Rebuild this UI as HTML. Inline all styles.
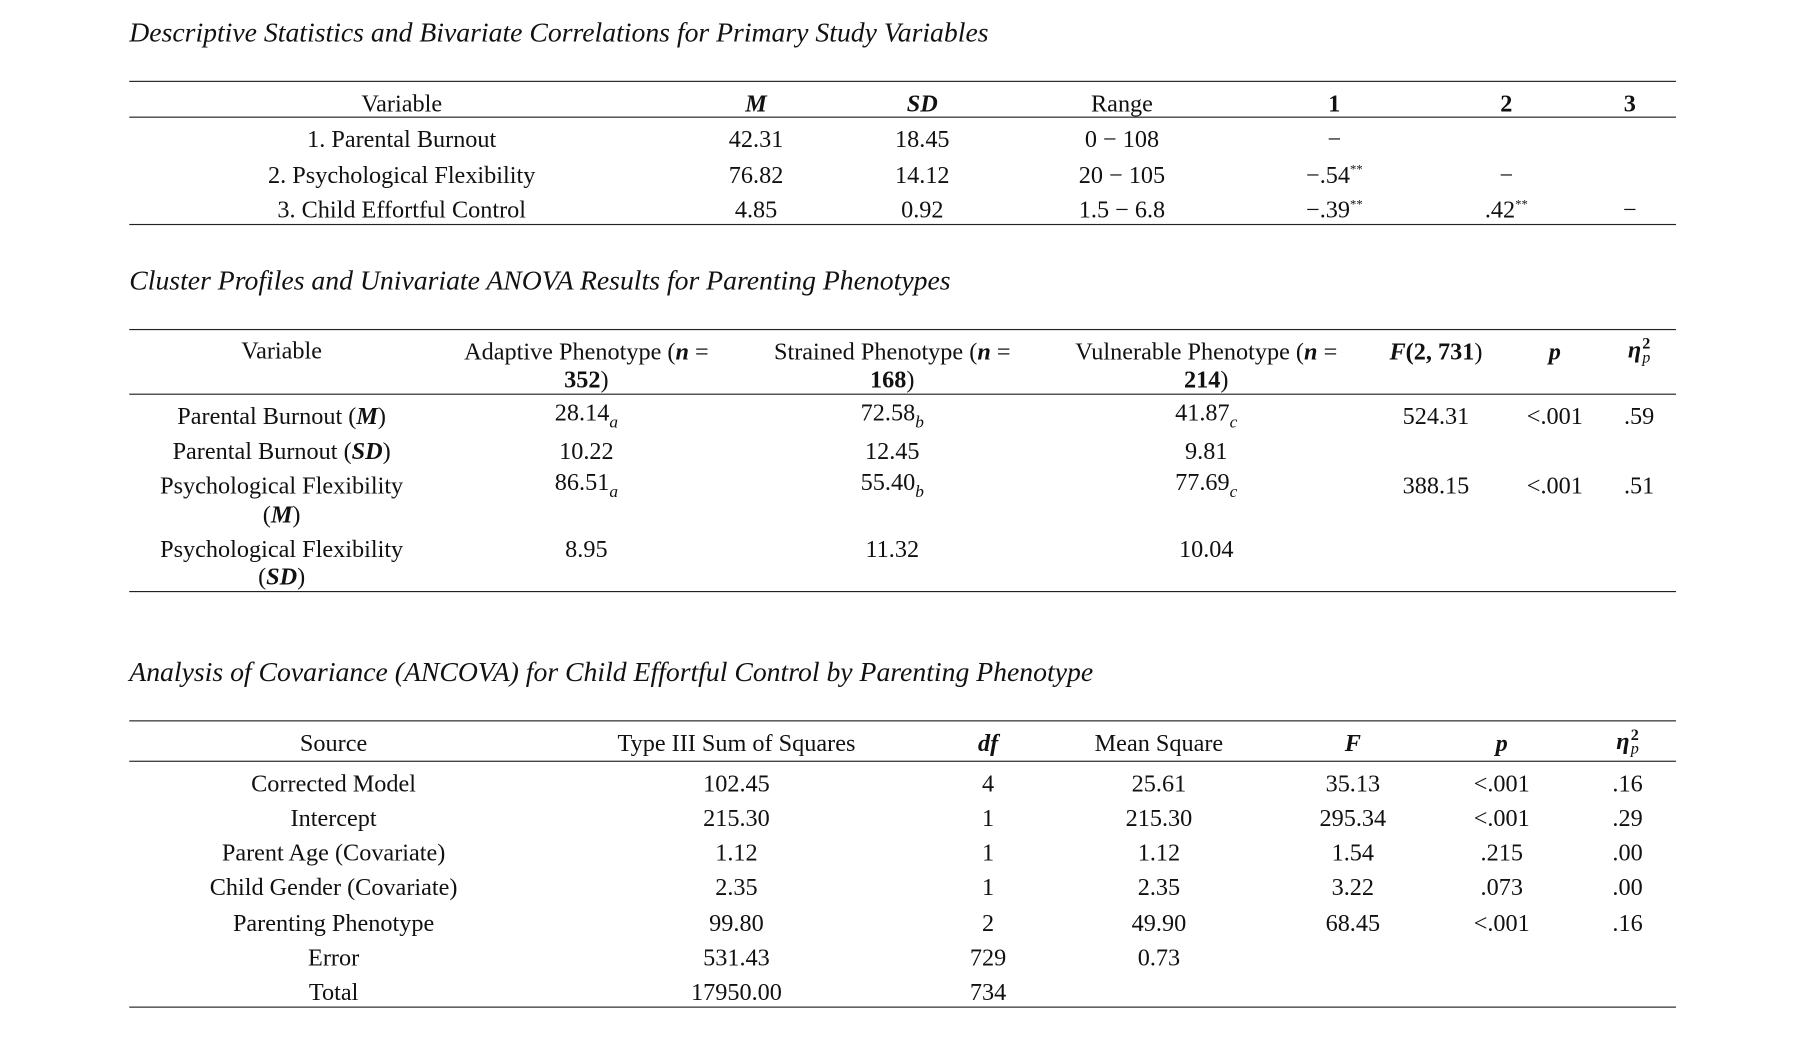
<!DOCTYPE html>
<html><head><meta charset="utf-8"><style>
html,body{margin:0;padding:0;background:#fff;width:1809px;height:1057px;overflow:hidden}
#c{position:absolute;left:0;top:0;width:1570px;height:920px;transform:scale(1.1543);transform-origin:0 0;font-family:"Liberation Serif",serif;color:#111}
.t{position:absolute;transform:translate(-50%,-50%);white-space:nowrap;font-size:21px;line-height:1}
.h{position:absolute;left:112px;font-style:italic;font-size:24px;white-space:nowrap;transform:translateY(-50%);line-height:1}
.l{position:absolute;left:112px;width:1340px;height:0;border-top:1.2px solid #222}
b i,i b{font-weight:bold;font-style:italic}
sub{font-style:italic;font-size:15px;vertical-align:-6px}
sup{font-size:11px;vertical-align:8px}
.eta{display:inline-block;vertical-align:middle;font-size:14px;line-height:12px;text-align:left;margin-left:1px}
</style></head><body><div id="c">

<div class="h" style="top:29px">Descriptive Statistics and Bivariate Correlations for Primary Study Variables</div>
<div class="l" style="top:70px"></div>
<div class="l" style="top:101px"></div>
<div class="l" style="top:194px"></div>
<div class="t" style="left:348px;top:90px">Variable</div>
<div class="t" style="left:655px;top:90px"><b><i>M</i></b></div>
<div class="t" style="left:799px;top:90px"><b><i>SD</i></b></div>
<div class="t" style="left:972px;top:90px">Range</div>
<div class="t" style="left:1156px;top:90px"><b>1</b></div>
<div class="t" style="left:1305px;top:90px"><b>2</b></div>
<div class="t" style="left:1412px;top:90px"><b>3</b></div>

<div class="t" style="left:348px;top:121px">1. Parental Burnout</div>
<div class="t" style="left:655px;top:121px">42.31</div>
<div class="t" style="left:799px;top:121px">18.45</div>
<div class="t" style="left:972px;top:121px">0 − 108</div>
<div class="t" style="left:1156px;top:121px">−</div>
<div class="t" style="left:348px;top:152px">2. Psychological Flexibility</div>
<div class="t" style="left:655px;top:152px">76.82</div>
<div class="t" style="left:799px;top:152px">14.12</div>
<div class="t" style="left:972px;top:152px">20 − 105</div>
<div class="t" style="left:1156px;top:152px">−.54<sup>**</sup></div>
<div class="t" style="left:1305px;top:152px">−</div>
<div class="t" style="left:348px;top:182px">3. Child Effortful Control</div>
<div class="t" style="left:655px;top:182px">4.85</div>
<div class="t" style="left:799px;top:182px">0.92</div>
<div class="t" style="left:972px;top:182px">1.5 − 6.8</div>
<div class="t" style="left:1156px;top:182px">−.39<sup>**</sup></div>
<div class="t" style="left:1305px;top:182px">.42<sup>**</sup></div>
<div class="t" style="left:1412px;top:182px">−</div>

<div class="h" style="top:244px">Cluster Profiles and Univariate ANOVA Results for Parenting Phenotypes</div>
<div class="l" style="top:285px"></div>
<div class="l" style="top:341px"></div>
<div class="l" style="top:512px"></div>
<div class="t" style="left:244px;top:304px">Variable</div>
<div class="t" style="left:508px;top:305px">Adaptive Phenotype (<b><i>n</i></b> =</div>
<div class="t" style="left:508px;top:329px"><b>352</b>)</div>
<div class="t" style="left:773px;top:305px">Strained Phenotype (<b><i>n</i></b> =</div>
<div class="t" style="left:773px;top:329px"><b>168</b>)</div>
<div class="t" style="left:1045px;top:305px">Vulnerable Phenotype (<b><i>n</i></b> =</div>
<div class="t" style="left:1045px;top:329px"><b>214</b>)</div>
<div class="t" style="left:1244px;top:305px"><b><i>F</i>(2, 731</b>)</div>
<div class="t" style="left:1347px;top:305px"><b><i>p</i></b></div>
<div class="t" style="left:1420px;top:305px"><b><i>η</i></b><span class="eta"><b>2</b><br><i>p</i></span></div>

<div class="t" style="left:244px;top:361px">Parental Burnout (<b><i>M</i></b>)</div>
<div class="t" style="left:508px;top:361px">28.14<sub>a</sub></div>
<div class="t" style="left:773px;top:361px">72.58<sub>b</sub></div>
<div class="t" style="left:1045px;top:361px">41.87<sub>c</sub></div>
<div class="t" style="left:1244px;top:361px">524.31</div>
<div class="t" style="left:1347px;top:361px">&lt;.001</div>
<div class="t" style="left:1420px;top:361px">.59</div>
<div class="t" style="left:244px;top:391px">Parental Burnout (<b><i>SD</i></b>)</div>
<div class="t" style="left:508px;top:391px">10.22</div>
<div class="t" style="left:773px;top:391px">12.45</div>
<div class="t" style="left:1045px;top:391px">9.81</div>
<div class="t" style="left:244px;top:421px">Psychological Flexibility</div>
<div class="t" style="left:244px;top:446px">(<b><i>M</i></b>)</div>
<div class="t" style="left:508px;top:421px">86.51<sub>a</sub></div>
<div class="t" style="left:773px;top:421px">55.40<sub>b</sub></div>
<div class="t" style="left:1045px;top:421px">77.69<sub>c</sub></div>
<div class="t" style="left:1244px;top:421px">388.15</div>
<div class="t" style="left:1347px;top:421px">&lt;.001</div>
<div class="t" style="left:1420px;top:421px">.51</div>
<div class="t" style="left:244px;top:476px">Psychological Flexibility</div>
<div class="t" style="left:244px;top:500px">(<b><i>SD</i></b>)</div>
<div class="t" style="left:508px;top:476px">8.95</div>
<div class="t" style="left:773px;top:476px">11.32</div>
<div class="t" style="left:1045px;top:476px">10.04</div>

<div class="h" style="top:583px">Analysis of Covariance (ANCOVA) for Child Effortful Control by Parenting Phenotype</div>
<div class="l" style="top:624px"></div>
<div class="l" style="top:659px"></div>
<div class="l" style="top:872px"></div>
<div class="t" style="left:289px;top:644px">Source</div>
<div class="t" style="left:638px;top:644px">Type III Sum of Squares</div>
<div class="t" style="left:856px;top:644px"><b><i>df</i></b></div>
<div class="t" style="left:1004px;top:644px">Mean Square</div>
<div class="t" style="left:1172px;top:644px"><b><i>F</i></b></div>
<div class="t" style="left:1301px;top:644px"><b><i>p</i></b></div>
<div class="t" style="left:1410px;top:644px"><b><i>η</i></b><span class="eta"><b>2</b><br><i>p</i></span></div>

<div class="t" style="left:289px;top:679px">Corrected Model</div>
<div class="t" style="left:638px;top:679px">102.45</div>
<div class="t" style="left:856px;top:679px">4</div>
<div class="t" style="left:1004px;top:679px">25.61</div>
<div class="t" style="left:1172px;top:679px">35.13</div>
<div class="t" style="left:1301px;top:679px">&lt;.001</div>
<div class="t" style="left:1410px;top:679px">.16</div>
<div class="t" style="left:289px;top:709px">Intercept</div>
<div class="t" style="left:638px;top:709px">215.30</div>
<div class="t" style="left:856px;top:709px">1</div>
<div class="t" style="left:1004px;top:709px">215.30</div>
<div class="t" style="left:1172px;top:709px">295.34</div>
<div class="t" style="left:1301px;top:709px">&lt;.001</div>
<div class="t" style="left:1410px;top:709px">.29</div>
<div class="t" style="left:289px;top:739px">Parent Age (Covariate)</div>
<div class="t" style="left:638px;top:739px">1.12</div>
<div class="t" style="left:856px;top:739px">1</div>
<div class="t" style="left:1004px;top:739px">1.12</div>
<div class="t" style="left:1172px;top:739px">1.54</div>
<div class="t" style="left:1301px;top:739px">.215</div>
<div class="t" style="left:1410px;top:739px">.00</div>
<div class="t" style="left:289px;top:769px">Child Gender (Covariate)</div>
<div class="t" style="left:638px;top:769px">2.35</div>
<div class="t" style="left:856px;top:769px">1</div>
<div class="t" style="left:1004px;top:769px">2.35</div>
<div class="t" style="left:1172px;top:769px">3.22</div>
<div class="t" style="left:1301px;top:769px">.073</div>
<div class="t" style="left:1410px;top:769px">.00</div>
<div class="t" style="left:289px;top:800px">Parenting Phenotype</div>
<div class="t" style="left:638px;top:800px">99.80</div>
<div class="t" style="left:856px;top:800px">2</div>
<div class="t" style="left:1004px;top:800px">49.90</div>
<div class="t" style="left:1172px;top:800px">68.45</div>
<div class="t" style="left:1301px;top:800px">&lt;.001</div>
<div class="t" style="left:1410px;top:800px">.16</div>
<div class="t" style="left:289px;top:830px">Error</div>
<div class="t" style="left:638px;top:830px">531.43</div>
<div class="t" style="left:856px;top:830px">729</div>
<div class="t" style="left:1004px;top:830px">0.73</div>
<div class="t" style="left:289px;top:860px">Total</div>
<div class="t" style="left:638px;top:860px">17950.00</div>
<div class="t" style="left:856px;top:860px">734</div>

</div></body></html>
